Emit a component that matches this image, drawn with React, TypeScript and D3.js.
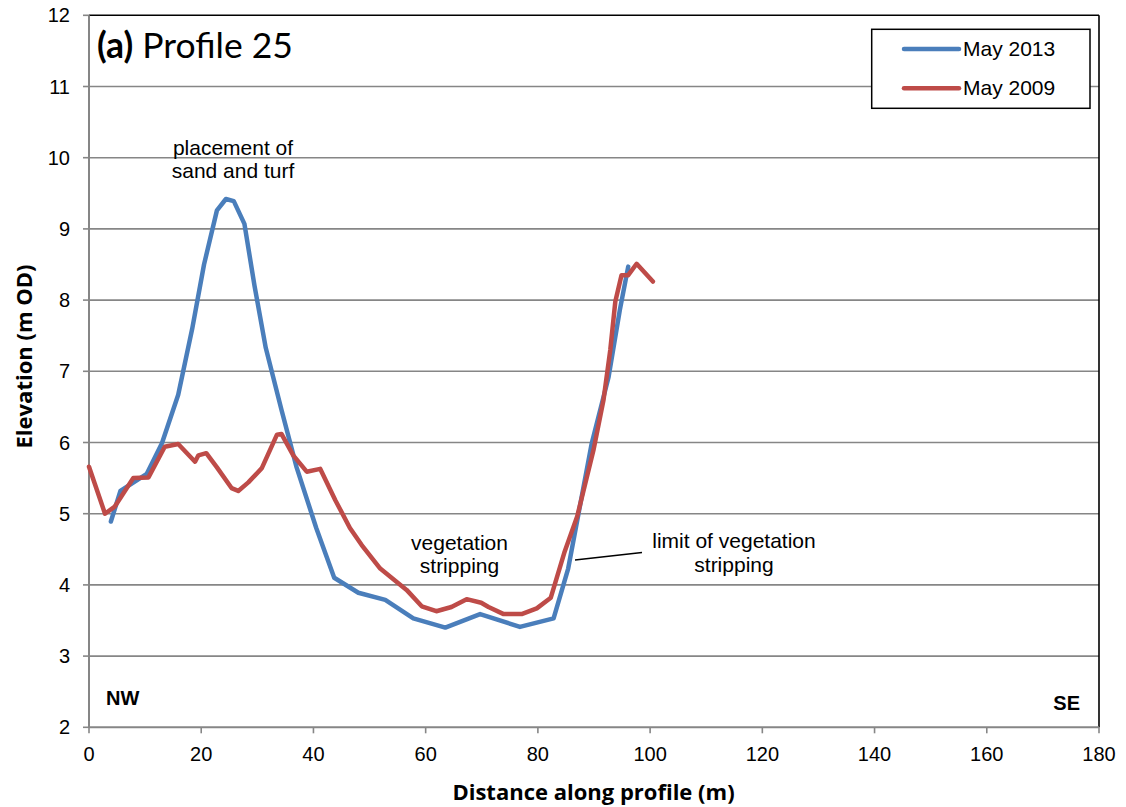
import React from "react";
import * as d3 from "d3";

const xTicks = [0, 20, 40, 60, 80, 100, 120, 140, 160, 180];
const yTicks = [2, 3, 4, 5, 6, 7, 8, 9, 10, 11, 12];

const may2013X = [3.9, 5.6, 10.3, 13.0, 15.9, 18.4, 20.5, 22.8, 24.4, 25.8, 27.7, 29.5, 31.5, 34.3, 37.0, 40.5, 43.7, 48.0, 52.8, 57.8, 63.5, 69.7, 76.8, 82.8, 85.4, 89.6, 92.6, 94.6, 96.1];
const may2013Y = [4.89, 5.32, 5.56, 5.99, 6.67, 7.6, 8.5, 9.26, 9.42, 9.39, 9.07, 8.2, 7.33, 6.46, 5.65, 4.8, 4.1, 3.89, 3.79, 3.53, 3.40, 3.59, 3.41, 3.53, 4.23, 5.99, 6.92, 7.86, 8.47];

const may2009X = [0, 2.85, 4.6, 7.9, 10.6, 13.5, 15.9, 18.9, 19.5, 20.9, 22.8, 25.4, 26.6, 28.4, 30.8, 33.5, 34.3, 36.4, 38.8, 41.2, 43.9, 46.5, 48.6, 51.9, 56.6, 59.3, 61.9, 64.6, 67.3, 69.9, 71.2, 73.9, 77.1, 79.8, 82.3, 84.7, 87.0, 89.9, 91.7, 92.9, 93.8, 94.9, 96.1, 97.6, 100.5];
const may2009Y = [5.66, 5.0, 5.1, 5.5, 5.51, 5.94, 5.98, 5.73, 5.82, 5.85, 5.65, 5.36, 5.32, 5.44, 5.64, 6.11, 6.12, 5.82, 5.59, 5.63, 5.19, 4.8, 4.56, 4.23, 3.93, 3.70, 3.63, 3.69, 3.80, 3.75, 3.69, 3.59, 3.59, 3.67, 3.82, 4.45, 4.96, 5.89, 6.6, 7.3, 7.98, 8.35, 8.35, 8.51, 8.26];

const seriesNames = ["May 2013", "May 2009"];
const seriesColors = ["#4A7EBB", "#BE4B48"];

const W = 1126, H = 807;
const L = 89, R = 1099, T = 15.3, B = 727.3;

export default function App() {
  const x = d3.scaleLinear().domain([0, 180]).range([L, R]);
  const y = d3.scaleLinear().domain([2, 12]).range([B, T]);
  const line = d3.line<[number, number]>().x(d => x(d[0])).y(d => y(d[1]));
  const s2013 = may2013X.map((v, i) => [v, may2013Y[i]] as [number, number]);
  const s2009 = may2009X.map((v, i) => [v, may2009Y[i]] as [number, number]);
  const arial = "'Liberation Sans', Arial, sans-serif";
  const cal = "Lato, 'Open Sans', sans-serif";
  const osans = "'Open Sans', Lato, sans-serif";
  const grid = "#868686";

  return (
    <svg width={W} height={H} style={{ position: "absolute", left: 0, top: 0, background: "#fff" }}>
      {yTicks.map(t => (
        <g key={"y" + t}>
          {t > 2 && t < 12 && <line x1={L} x2={R} y1={y(t)} y2={y(t)} stroke={grid} strokeWidth={1.6} />}
          <line x1={L - 6} x2={L} y1={y(t)} y2={y(t)} stroke={grid} strokeWidth={1.6} />
          <text x={70} y={y(t) + 7} textAnchor="end" fontFamily={arial} fontSize={20} fill="#000">{t}</text>
        </g>
      ))}
      {xTicks.map(t => (
        <g key={"x" + t}>
          <line x1={x(t)} x2={x(t)} y1={B} y2={B + 6} stroke={grid} strokeWidth={1.6} />
          <text x={x(t)} y={761} textAnchor="middle" fontFamily={arial} fontSize={20} fill="#000">{t}</text>
        </g>
      ))}
      <line x1={L} x2={R} y1={T} y2={T} stroke="#000" strokeWidth={1.6} />
      <line x1={R} x2={R} y1={T} y2={B} stroke="#000" strokeWidth={1.6} />
      <line x1={L} x2={L} y1={T} y2={B} stroke={grid} strokeWidth={2} />
      <line x1={L} x2={R} y1={B} y2={B} stroke={grid} strokeWidth={2} />

      <path d={line(s2013) || ""} fill="none" stroke={seriesColors[0]} strokeWidth={4.5} strokeLinejoin="round" strokeLinecap="round" />
      <path d={line(s2009) || ""} fill="none" stroke={seriesColors[1]} strokeWidth={4.5} strokeLinejoin="round" strokeLinecap="round" />

      <text x={97} y={58} fontFamily={cal} fontSize={35.5} fill="#000">
        <tspan fontWeight="bold">(a)</tspan> Profile 25
      </text>

      <g fontFamily={arial} fontSize={21} fill="#000" textAnchor="middle">
        <text x={233} y={155}>placement of</text>
        <text x={233} y={178}>sand and turf</text>
        <text x={459.5} y={550}>vegetation</text>
        <text x={459.5} y={573}>stripping</text>
        <text x={734} y={548}>limit of vegetation</text>
        <text x={734} y={572}>stripping</text>
      </g>
      <line x1={575} y1={560} x2={642} y2={552.5} stroke="#000" strokeWidth={1.5} />

      <text x={106} y={705} fontFamily={arial} fontSize={20} fontWeight="bold">NW</text>
      <text x={1080} y={710} textAnchor="end" fontFamily={arial} fontSize={20} fontWeight="bold">SE</text>

      <rect x={871.7} y={29.3} width={218.3} height={79} fill="#fff" stroke="#000" strokeWidth={1.5} />
      {seriesNames.map((n, i) => (
        <g key={n}>
          <line x1={904} x2={959} y1={49 + i * 39.3} y2={49 + i * 39.3} stroke={seriesColors[i]} strokeWidth={4.5} strokeLinecap="round" />
          <text x={963} y={56 + i * 39.3} fontFamily={arial} fontSize={21}>{n}</text>
        </g>
      ))}

      <text transform={`translate(32,${356.5}) rotate(-90)`} textAnchor="middle" fontFamily={osans} fontWeight="bold" fontSize={22}>Elevation (m OD)</text>
      <text x={593.5} y={800} textAnchor="middle" fontFamily={osans} fontWeight="bold" fontSize={22}>Distance along profile (m)</text>
    </svg>
  );
}
